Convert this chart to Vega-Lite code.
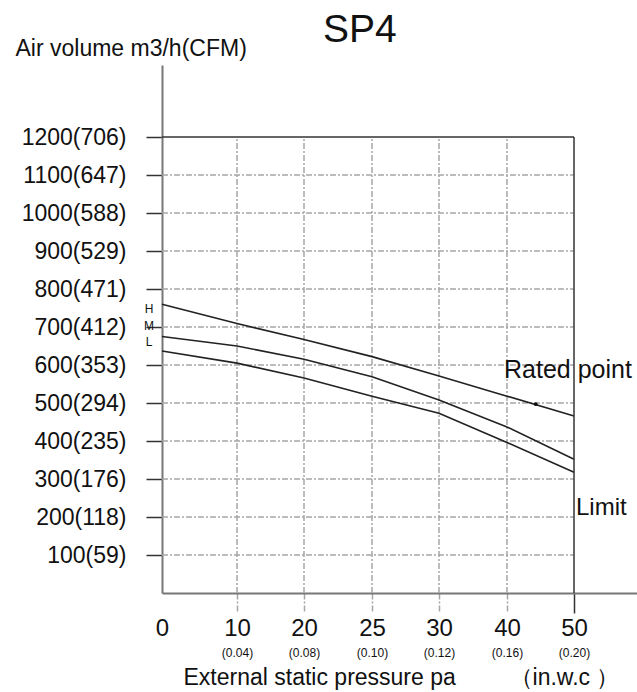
{
  "$schema": "https://vega.github.io/schema/vega-lite/v6.json",
  "width": 475,
  "height": 528,
  "autosize": {"type": "none"},
  "padding": {"left": 162, "top": 65, "right": 0, "bottom": 99},
  "background": "white",
  "config": {"view": {"stroke": null}, "font": "Liberation Sans"},
  "title": {
    "text": "SP4",
    "fontSize": 39,
    "fontWeight": "normal",
    "font": "Liberation Sans",
    "color": "#111",
    "anchor": "start",
    "frame": "group",
    "dx": 161,
    "offset": 0,
    "baseline": "alphabetic",
    "dy": 44
  },
  "datasets": {
    "curves": [
      {"series": "H", "pa": 0, "q": 760},
      {"series": "H", "pa": 10, "q": 709},
      {"series": "H", "pa": 20, "q": 667},
      {"series": "H", "pa": 25, "q": 622},
      {"series": "H", "pa": 30, "q": 571},
      {"series": "H", "pa": 40, "q": 518},
      {"series": "H", "pa": 50, "q": 466},
      {"series": "M", "pa": 0, "q": 675},
      {"series": "M", "pa": 10, "q": 650},
      {"series": "M", "pa": 20, "q": 615},
      {"series": "M", "pa": 25, "q": 569},
      {"series": "M", "pa": 30, "q": 508},
      {"series": "M", "pa": 40, "q": 437},
      {"series": "M", "pa": 50, "q": 352},
      {"series": "L", "pa": 0, "q": 637},
      {"series": "L", "pa": 10, "q": 605},
      {"series": "L", "pa": 20, "q": 566},
      {"series": "L", "pa": 25, "q": 518},
      {"series": "L", "pa": 30, "q": 473},
      {"series": "L", "pa": 40, "q": 396},
      {"series": "L", "pa": 50, "q": 318}
    ],
    "grid_h": [
      {"q": 100}, {"q": 200}, {"q": 300}, {"q": 400}, {"q": 500}, {"q": 600},
      {"q": 700}, {"q": 800}, {"q": 900}, {"q": 1000}, {"q": 1100}
    ],
    "grid_v": [{"pa": 10}, {"pa": 20}, {"pa": 25}, {"pa": 30}, {"pa": 40}],
    "rated": [{"pa": 44.3, "q": 497}],
    "rated_label": [{"pa": 50, "q": 587, "label": "Rated point"}],
    "limit_label": [{"pa": 50, "q": 224, "label": "Limit"}],
    "speed_labels": [
      {"pa": 0, "q": 747, "label": "H"},
      {"pa": 0, "q": 703, "label": "M"},
      {"pa": 0, "q": 661, "label": "L"}
    ]
  },
  "layer": [
    {
      "data": {"name": "grid_h"},
      "mark": {"type": "rule", "color": "#a6a6a6", "strokeWidth": 1.5, "strokeDash": [6, 2, 2, 2]},
      "encoding": {
        "y": {
          "field": "q",
          "type": "quantitative",
          "scale": {"domain": [0, 1389.5], "nice": false, "zero": false},
          "axis": {
            "values": [100, 200, 300, 400, 500, 600, 700, 800, 900, 1000, 1100, 1200],
            "labelExpr": "datum.value + '(' + [0,59,118,176,235,294,353,412,471,529,588,647,706][round(datum.value/100)] + ')'",
            "grid": false,
            "tickSize": 16,
            "tickColor": "#333",
            "tickWidth": 1.5,
            "labelPadding": 20,
            "labelFontSize": 23,
            "labelFont": "Liberation Sans",
            "labelColor": "#111",
            "labelFlush": false,
            "labelOverlap": false,
            "labelBound": false,
            "domainColor": "#777",
            "domainWidth": 2,
            "title": "Air volume m3/h(CFM)",
            "titleAngle": 0,
            "titleX": -147,
            "titleY": -17,
            "titleAlign": "left",
            "titleBaseline": "middle",
            "titleFontSize": 23,
            "titleFont": "Liberation Sans",
            "titleFontWeight": "normal",
            "titleColor": "#111"
          }
        },
        "x": {
          "datum": 0,
          "type": "quantitative",
          "scale": {
            "domain": [0, 10, 20, 25, 30, 40, 50, 60],
            "range": [0, 75, 142, 210, 277, 345, 412, 475],
            "nice": false,
            "zero": false
          },
          "axis": null
        },
        "x2": {"datum": 50}
      }
    },
    {
      "data": {"name": "grid_v"},
      "mark": {"type": "rule", "color": "#a6a6a6", "strokeWidth": 1.5, "strokeDash": [6, 2, 2, 2]},
      "encoding": {
        "x": {
          "field": "pa",
          "type": "quantitative",
          "axis": {
            "orient": "bottom",
            "values": [0, 10, 20, 25, 30, 40, 50],
            "format": "d",
            "grid": false,
            "tickSize": 20,
            "tickWidth": 1.5,
            "tickColor": {"condition": {"test": "datum.value == 50", "value": "#333"}, "value": "#a6a6a6"},
            "tickDash": {"condition": {"test": "datum.value == 50", "value": [1, 0]}, "value": [6, 2, 2, 2]},
            "tickOpacity": {"condition": {"test": "datum.value == 0", "value": 0}, "value": 1},
            "labelPadding": 3,
            "labelFontSize": 24,
            "labelFont": "Liberation Sans",
            "labelColor": "#111",
            "labelFlush": false,
            "labelOverlap": false,
            "labelBound": false,
            "domainColor": "#777",
            "domainWidth": 2,
            "title": "External static pressure pa",
            "titleX": 21,
            "titleY": 84,
            "titleAlign": "left",
            "titleAnchor": "start",
            "titleBaseline": "middle",
            "titleFontSize": 23,
            "titleFont": "Liberation Sans",
            "titleFontWeight": "normal",
            "titleColor": "#111"
          }
        },
        "y": {"datum": 0, "type": "quantitative"},
        "y2": {"datum": 1200}
      }
    },
    {
      "data": {"name": "curves"},
      "mark": {"type": "line", "color": "#222", "strokeWidth": 1.6},
      "encoding": {
        "x": {
          "field": "pa",
          "type": "quantitative",
          "axis": {
            "orient": "bottom",
            "values": [10, 20, 25, 30, 40, 50],
            "labelExpr": "['(0.04)','(0.08)','(0.10)','(0.12)','(0.16)','(0.20)'][indexof([10,20,25,30,40,50], datum.value)]",
            "domain": false,
            "ticks": false,
            "tickSize": 0,
            "grid": false,
            "labelPadding": 59,
            "labelBaseline": "middle",
            "labelFontSize": 12,
            "labelFont": "Liberation Sans",
            "labelColor": "#111",
            "labelFlush": false,
            "labelOverlap": false,
            "labelBound": false,
            "title": "（in.w.c ）",
            "titleX": 402,
            "titleY": 84,
            "titleAlign": "center",
            "titleAnchor": "start",
            "titleBaseline": "middle",
            "titleFontSize": 23,
            "titleFont": "Liberation Sans",
            "titleFontWeight": "normal",
            "titleColor": "#111"
          }
        },
        "y": {"field": "q", "type": "quantitative"},
        "detail": {"field": "series"}
      }
    },
    {
      "data": {"values": [{}]},
      "mark": {"type": "rule", "color": "#333", "strokeWidth": 1.5},
      "encoding": {
        "x": {"datum": 0, "type": "quantitative", "axis": null},
        "x2": {"datum": 50},
        "y": {"datum": 1200, "type": "quantitative"}
      }
    },
    {
      "data": {"values": [{}]},
      "mark": {"type": "rule", "color": "#333", "strokeWidth": 1.5},
      "encoding": {
        "x": {"datum": 50, "type": "quantitative", "axis": null},
        "y": {"datum": 0, "type": "quantitative"},
        "y2": {"datum": 1200}
      }
    },
    {
      "data": {"name": "rated"},
      "mark": {"type": "point", "filled": true, "color": "#111", "size": 14, "opacity": 1},
      "encoding": {
        "x": {"field": "pa", "type": "quantitative", "axis": null},
        "y": {"field": "q", "type": "quantitative"}
      }
    },
    {
      "data": {"name": "rated_label"},
      "mark": {"type": "text", "fontSize": 25, "font": "Liberation Sans", "color": "#111", "align": "center", "baseline": "middle", "dx": -6},
      "encoding": {
        "x": {"field": "pa", "type": "quantitative", "axis": null},
        "y": {"field": "q", "type": "quantitative"},
        "text": {"field": "label"}
      }
    },
    {
      "data": {"name": "limit_label"},
      "mark": {"type": "text", "fontSize": 24, "font": "Liberation Sans", "color": "#111", "align": "left", "baseline": "middle", "dx": 2},
      "encoding": {
        "x": {"field": "pa", "type": "quantitative", "axis": null},
        "y": {"field": "q", "type": "quantitative"},
        "text": {"field": "label"}
      }
    },
    {
      "data": {"name": "speed_labels"},
      "mark": {"type": "text", "fontSize": 12, "font": "Liberation Sans", "color": "#111", "align": "center", "baseline": "middle", "dx": -13},
      "encoding": {
        "x": {"field": "pa", "type": "quantitative", "axis": null},
        "y": {"field": "q", "type": "quantitative"},
        "text": {"field": "label"}
      }
    }
  ],
  "resolve": {"axis": {"x": "independent"}}
}
